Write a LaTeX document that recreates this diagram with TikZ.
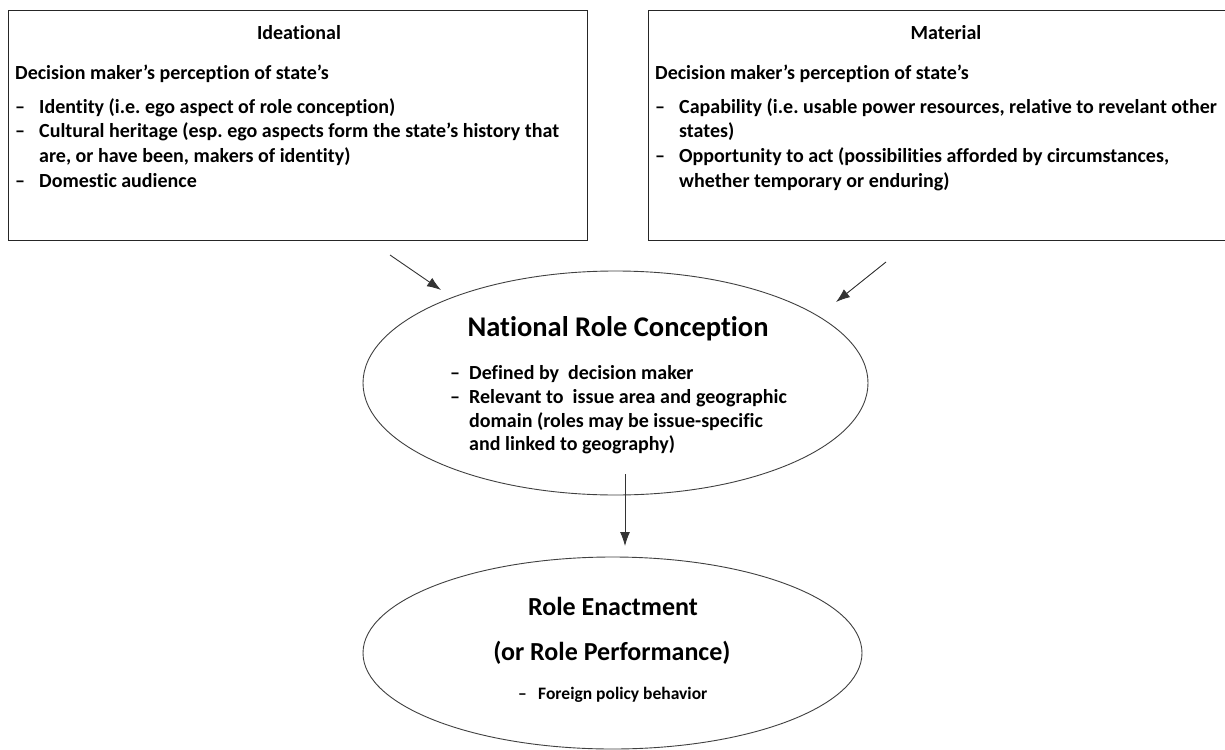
\documentclass[tikz,border=0pt]{standalone}
\usepackage{fontspec}
\setmainfont{Carlito}[Ligatures=NoCommon]
\usetikzlibrary{shapes.geometric,arrows.meta}
\frenchspacing
\begin{document}
\begin{tikzpicture}[x=1pt,y=-1pt,
  txt/.style={anchor=base west,inner sep=0pt,font=\fontsize{20}{24}\selectfont\bfseries},
  ttl/.style={anchor=base,inner sep=0pt,font=\fontsize{20}{24}\selectfont\bfseries},
  bigttl/.style={anchor=base,inner sep=0pt,font=\fontsize{28.5}{32}\selectfont\bfseries},
  midttl/.style={anchor=base,inner sep=0pt,font=\fontsize{26}{30}\selectfont\bfseries},
  smalltxt/.style={anchor=base west,inner sep=0pt,font=\fontsize{17.5}{20}\selectfont\bfseries},
  box/.style={draw=black!85,line width=1pt,inner sep=0pt},
  oval/.style={draw=black!75,line width=0.9pt,ellipse,inner sep=0pt},
  arr/.style={-{Latex[length=14pt,width=10pt]},line width=0.9pt,draw=black!80}]
\useasboundingbox (0,0) rectangle (1225,749);
\fill[white] (0,0) rectangle (1225,749);

% Ideational box
\node[box,minimum width=579pt,minimum height=230pt] (ideabox) at (298,125.5) {};
\node[ttl] (ideat) at (299,40) {Ideational};
\node[txt] (idea0) at (15,79.5) {Decision maker’s perception of state’s};
\node[txt] (ideaa) at (15,113.5) {–};
\node[txt] (idea1) at (39,113.5) {Identity (i.e. ego aspect of role conception)};
\node[txt] (ideab) at (15,138) {–};
\node[txt] (idea2) at (39,138) {Cultural heritage (esp. ego aspects form the state’s history that};
\node[txt] (idea3) at (39,162.5) {are, or have been, makers of identity)};
\node[txt] (ideac) at (15,187) {–};
\node[txt] (idea4) at (39,187) {Domestic audience};

% Material box
\node[box,minimum width=592pt,minimum height=230pt] (matbox) at (944,125.5) {};
\node[ttl] (matt) at (946,40) {Material};
\node[txt] (mat0) at (655,79.5) {Decision maker’s perception of state’s};
\node[txt] (mata) at (655,113.5) {–};
\node[txt] (mat1) at (679,113.5) {Capability (i.e. usable power resources, relative to revelant other};
\node[txt] (mat2) at (679,138) {states)};
\node[txt] (matb) at (655,162.5) {–};
\node[txt] (mat3) at (679,162.5) {Opportunity to act (possibilities afforded by circumstances,};
\node[txt] (mat4) at (679,187) {whether temporary or enduring)};

% National Role Conception
\node[oval,minimum width=505pt,minimum height=224pt] (nrc) at (615.5,383) {};
\node[bigttl] (nrct) at (618,336) {National Role Conception};
\node[txt] (nrca) at (450,379.5) {–};
\node[txt] (nrc1) at (469,379.5) {Defined by\ \ decision maker};
\node[txt] (nrcb) at (450,403.5) {–};
\node[txt] (nrc2) at (469,403.5) {Relevant to\ \ issue area and geographic};
\node[txt] (nrc3) at (469,427.5) {domain (roles may be issue-specific};
\node[txt] (nrc4) at (469,450.5) {and linked to geography)};

% Role Enactment
\node[oval,minimum width=499pt,minimum height=192pt] (role) at (612.5,653) {};
\node[midttl] (rolet1) at (613,615.5) {Role Enactment};
\node[midttl] (rolet2) at (612,660) {(or Role Performance)};
\node[smalltxt] (rolea) at (518,699) {–};
\node[smalltxt] (role1) at (538,699) {Foreign policy behavior};

% Arrows
\coordinate (a1s) at (390,255);
\coordinate (a1e) at (441,290);
\coordinate (a2s) at (886,262);
\coordinate (a2e) at (836,302);
\coordinate (a3s) at (625,474);
\coordinate (a3e) at (625,546);
\draw[arr] (a1s) -- (a1e);
\draw[arr] (a2s) -- (a2e);
\draw[arr] (a3s) -- (a3e);
\end{tikzpicture}
\end{document}
